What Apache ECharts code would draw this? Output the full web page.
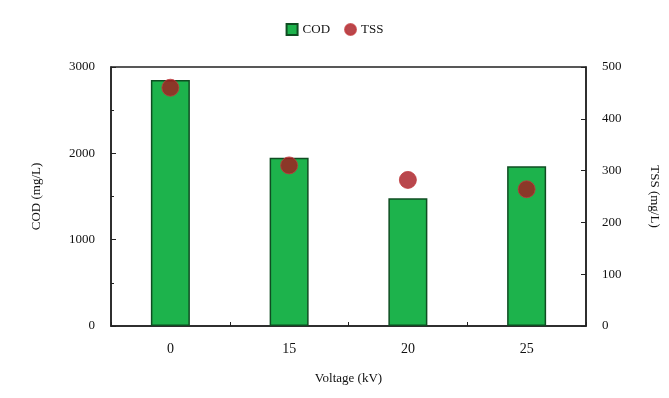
<!DOCTYPE html>
<html>
<head>
<meta charset="utf-8">
<script src="https://cdn.jsdelivr.net/npm/echarts@6/dist/echarts.min.js"></script>
<style>
  html, body { margin: 0; padding: 0; background: #fff; }
  #chart { width: 669px; height: 398px; }
</style>
</head>
<body>
<div id="chart"></div>
<script>
const voltages = ['0', '15', '20', '25']
const codValues = [2850, 1950, 1480, 1850]
const tssValues = [460, 310, 282, 264]

const font = '"Liberation Serif", "Times New Roman", serif'
const axisColor = '#222'
const textColor = '#111'

const myChart = echarts.init(document.getElementById('chart'))

const option = {
  backgroundColor: '#fff',
  textStyle: { fontFamily: font },

  legend: {
    data: [
      { name: 'COD', icon: 'rect' },
      { name: 'TSS', icon: 'circle' }
    ],
    top: 18,
    left: 'center',
    itemWidth: 11,
    itemHeight: 11,
    itemGap: 14,
    textStyle: { fontFamily: font, fontSize: 13, color: textColor }
  },

  grid: {
    left: 111,
    right: 82,
    top: 67,
    bottom: 72,
    show: true,
    borderColor: axisColor,
    borderWidth: 1.5,
    backgroundColor: 'transparent'
  },

  xAxis: {
    type: 'category',
    data: voltages,
    name: 'Voltage (kV)',
    nameLocation: 'middle',
    nameGap: 46,
    nameTextStyle: { fontFamily: font, fontSize: 13, color: textColor },
    axisLine: { lineStyle: { color: axisColor, width: 1.5 } },
    axisTick: { show: true, inside: true, length: 4, lineStyle: { color: axisColor } },
    axisLabel: { fontFamily: font, fontSize: 14, color: textColor, margin: 16 }
  },

  yAxis: [
    {
      type: 'value',
      min: 0,
      max: 3000,
      interval: 1000,
      name: 'COD (mg/L)',
      nameLocation: 'middle',
      nameGap: 68,
      nameTextStyle: { fontFamily: font, fontSize: 13, color: textColor },
      axisLine: { show: true, lineStyle: { color: axisColor, width: 1.5 } },
      axisTick: { show: true, inside: true, length: 5, lineStyle: { color: axisColor } },
      minorTick: { show: true, splitNumber: 2, length: 3, lineStyle: { color: axisColor } },
      splitLine: { show: false },
      axisLabel: { fontFamily: font, fontSize: 13, color: textColor, margin: 16, formatter: v => String(v) }
    },
    {
      type: 'value',
      min: 0,
      max: 500,
      interval: 100,
      position: 'right',
      name: 'TSS (mg/L)',
      nameLocation: 'middle',
      nameGap: 62,
      nameRotate: -90,
      nameTextStyle: { fontFamily: font, fontSize: 13, color: textColor },
      axisLine: { show: true, lineStyle: { color: axisColor, width: 1.5 } },
      axisTick: { show: true, inside: true, length: 5, lineStyle: { color: axisColor } },
      splitLine: { show: false },
      axisLabel: { fontFamily: font, fontSize: 13, color: textColor, margin: 16, formatter: v => String(v) }
    }
  ],

  series: [
    {
      name: 'COD',
      type: 'bar',
      yAxisIndex: 0,
      data: codValues,
      barWidth: 39,
      itemStyle: {
        color: '#1db34c',
        borderColor: '#0f4d22',
        borderWidth: 1.5
      }
    },
    {
      name: 'TSS',
      type: 'scatter',
      yAxisIndex: 1,
      data: tssValues,
      symbol: 'circle',
      symbolSize: 17,
      itemStyle: {
        color: '#a8191f',
        borderColor: '#c0393d',
        borderWidth: 1
      },
      z: 5
    }
  ]
}

myChart.setOption(option)
</script>
</body>
</html>
